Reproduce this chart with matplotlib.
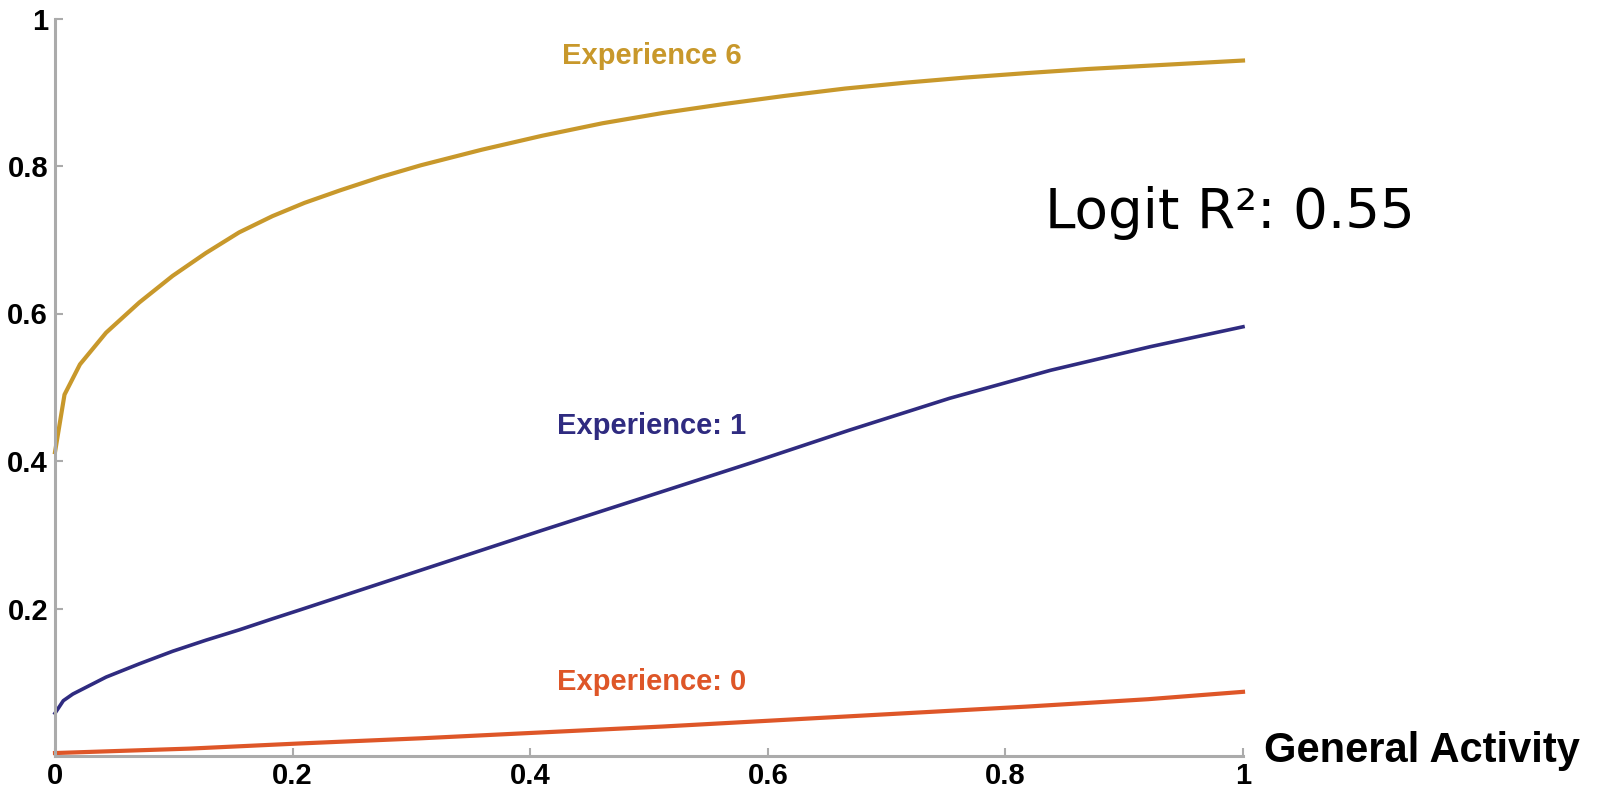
import matplotlib
matplotlib.use('Agg')
import matplotlib.pyplot as plt

# values
gold_x = [0.0, 0.008, 0.021, 0.043, 0.071, 0.099, 0.127, 0.155, 0.183, 0.21, 0.24, 0.274, 0.308, 0.359,
          0.41, 0.461, 0.512, 0.563, 0.614, 0.665, 0.716, 0.767, 0.818, 0.869, 0.92, 0.96, 1.0]
gold_y = [0.412, 0.490, 0.531, 0.574, 0.615, 0.651, 0.682, 0.710, 0.732, 0.750, 0.767, 0.785, 0.801, 0.822,
          0.841, 0.858, 0.872, 0.884, 0.895, 0.905, 0.913, 0.920, 0.926, 0.9315, 0.936, 0.9395, 0.943]
navy_x = [0.0, 0.007, 0.015, 0.043, 0.071, 0.099, 0.127, 0.155, 0.183, 0.206, 0.308, 0.41, 0.512, 0.585, 0.669, 0.753, 0.838, 0.922, 1.0]
navy_y = [0.058, 0.075, 0.084, 0.107, 0.125, 0.142, 0.157, 0.171, 0.186, 0.198, 0.252, 0.306, 0.359, 0.397, 0.442, 0.485, 0.523, 0.555, 0.582]
orange_x = [0.0, 0.113, 0.206, 0.308, 0.41, 0.512, 0.614, 0.716, 0.818, 0.92, 1.0]
orange_y = [0.004, 0.010, 0.017, 0.024, 0.032, 0.040, 0.049, 0.058, 0.067, 0.077, 0.087]

xticks = [0, 0.2, 0.4, 0.6, 0.8, 1]
xlabels = ['0', '0.2', '0.4', '0.6', '0.8', '1']
yticks = [0.2, 0.4, 0.6, 0.8, 1]
ylabels = ['0.2', '0.4', '0.6', '0.8', '1']

gold = '#C8982B'
navy = '#2F2B80'
orange = '#DE5628'
grey = '#ABABAB'
bold = {'family': 'Liberation Sans', 'weight': 'bold'}

fig = plt.figure(figsize=(16, 7.9), dpi=100)
ax = fig.add_axes([55/1600, 34/790, 1188/1600, 737.5/790])
ax.set_xlim(0, 1)
ax.set_ylim(0, 1)

ax.plot(gold_x, gold_y, color=gold, lw=3, solid_joinstyle='round', clip_on=False)
ax.plot(navy_x, navy_y, color=navy, lw=2.6, solid_joinstyle='round', clip_on=False)
ax.plot(orange_x, orange_y, color=orange, lw=3, solid_joinstyle='round', clip_on=False)

ax.text(0.502, 0.949, 'Experience 6', color=gold, fontsize=21, ha='center', va='center', **bold)
ax.text(0.502, 0.448, 'Experience: 1', color=navy, fontsize=21, ha='center', va='center', **bold)
ax.text(0.502, 0.100, 'Experience: 0', color=orange, fontsize=21, ha='center', va='center', **bold)

ax.text(1.0175, -0.008, 'General Activity', fontsize=30, ha='left', va='baseline',
        transform=ax.transAxes, **bold)
fig.text(1045/1600, 1 - 228/790, 'Logit R\u00b2: 0.55', fontsize=39.5, family='DejaVu Sans',
         ha='left', va='baseline')

for s in ['top', 'right']:
    ax.spines[s].set_visible(False)
for s in ['left', 'bottom']:
    ax.spines[s].set_color(grey)
    ax.spines[s].set_linewidth(2.2)

ax.set_xticks(xticks)
ax.set_xticklabels(xlabels, **bold)
ax.set_yticks(yticks)
ax.set_yticklabels(ylabels, **bold)
ax.tick_params(direction='in', length=6, width=1.5, color=grey, labelsize=21)
ax.tick_params(axis='x', pad=4)
ax.tick_params(axis='y', pad=5)

fig.savefig('out.png', dpi=100, facecolor='white')
